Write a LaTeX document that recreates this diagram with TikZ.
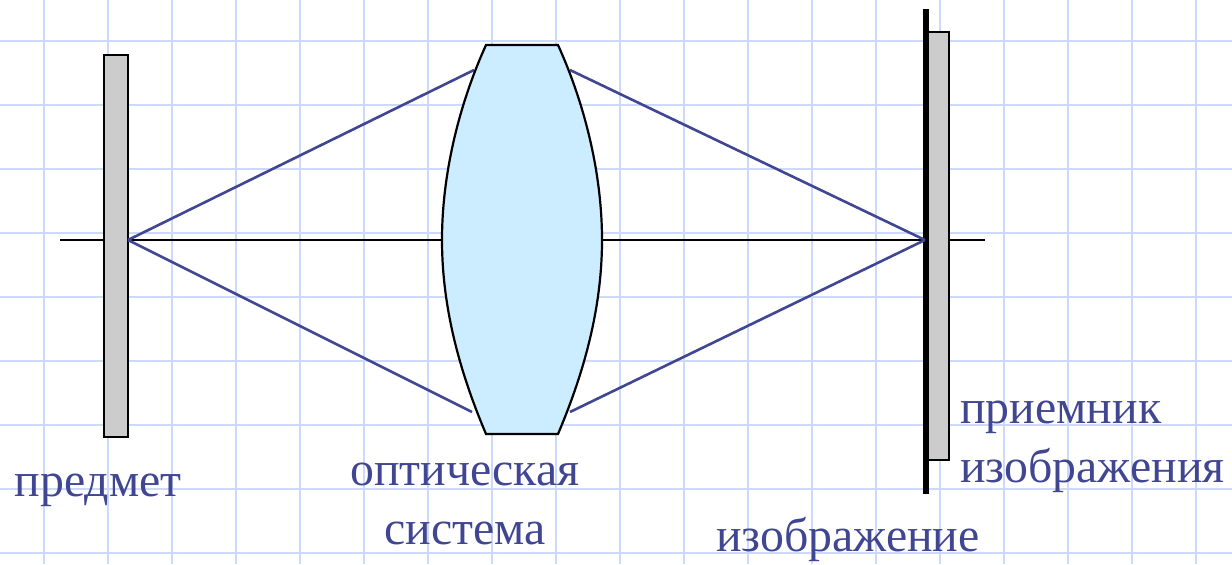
\documentclass[tikz,border=0pt]{standalone}
\usepackage{fontspec}
\setmainfont{Liberation Serif}
\usetikzlibrary{positioning}
\definecolor{gridblue}{RGB}{204,217,250}
\definecolor{raycol}{RGB}{64,70,146}
\definecolor{platecol}{RGB}{204,204,204}
\definecolor{lenscol}{RGB}{204,236,255}
\tikzset{
  gridline/.style={gridblue,line width=1.1pt},
  plate/.style={draw=black,fill=platecol,line width=1.1pt},
  ray/.style={raycol,line width=1.3pt},
  caption/.style={text=raycol,font=\fontsize{23.9}{29.5}\selectfont,inner sep=0pt,align=center}
}
\begin{document}
\begin{tikzpicture}[x=.5pt,y=-.5pt]
\useasboundingbox (0,0) rectangle (1232,564);
\fill[white] (0,0) rectangle (1232,564);
\foreach \gx in {44,108,...,1196} \draw[gridline] (\gx,0)--(\gx,564);
\foreach \gy in {41,105,...,553} \draw[gridline] (0,\gy)--(1232,\gy);
\coordinate (axisL) at (60,240);
\coordinate (axisR) at (985,240);
\coordinate (obj) at (128,240);
\coordinate (img) at (925,240);
\coordinate (lensTL) at (474,70);
\coordinate (lensBL) at (472,412);
\coordinate (lensTR) at (570,70);
\coordinate (lensBR) at (570,412);
\draw[line width=1.1pt] (axisL)--(axisR);
\draw[plate] (104,55) rectangle (128,437);
\draw[plate] (927,32) rectangle (949,460);
\draw[line width=2.7pt] (926,9)--(926,494);
\draw[ray] (obj)--(lensTL);
\draw[ray] (obj)--(lensBL);
\draw[ray] (lensTR)--(img);
\draw[ray] (lensBR)--(img);
\draw[draw=black,fill=lenscol,line width=1.1pt] (486,45)--(558,45)
  .. controls (583,100) and (602,170) .. (602,240)
  .. controls (602,310) and (583,375) .. (558,434)
  --(486,434)
  .. controls (461,375) and (442,310) .. (442,240)
  .. controls (442,170) and (461,100) .. (486,45)--cycle;
\node[caption] (subject) at (98,490) {предмет};
\node[caption] (optics) at (465,504) {оптическая\\система};
\node[caption,align=left,anchor=west] (receiver) at (960,447) {приемник\\изображения};
\node[caption] (image) at (848,539) {изображение};
\end{tikzpicture}
\end{document}
